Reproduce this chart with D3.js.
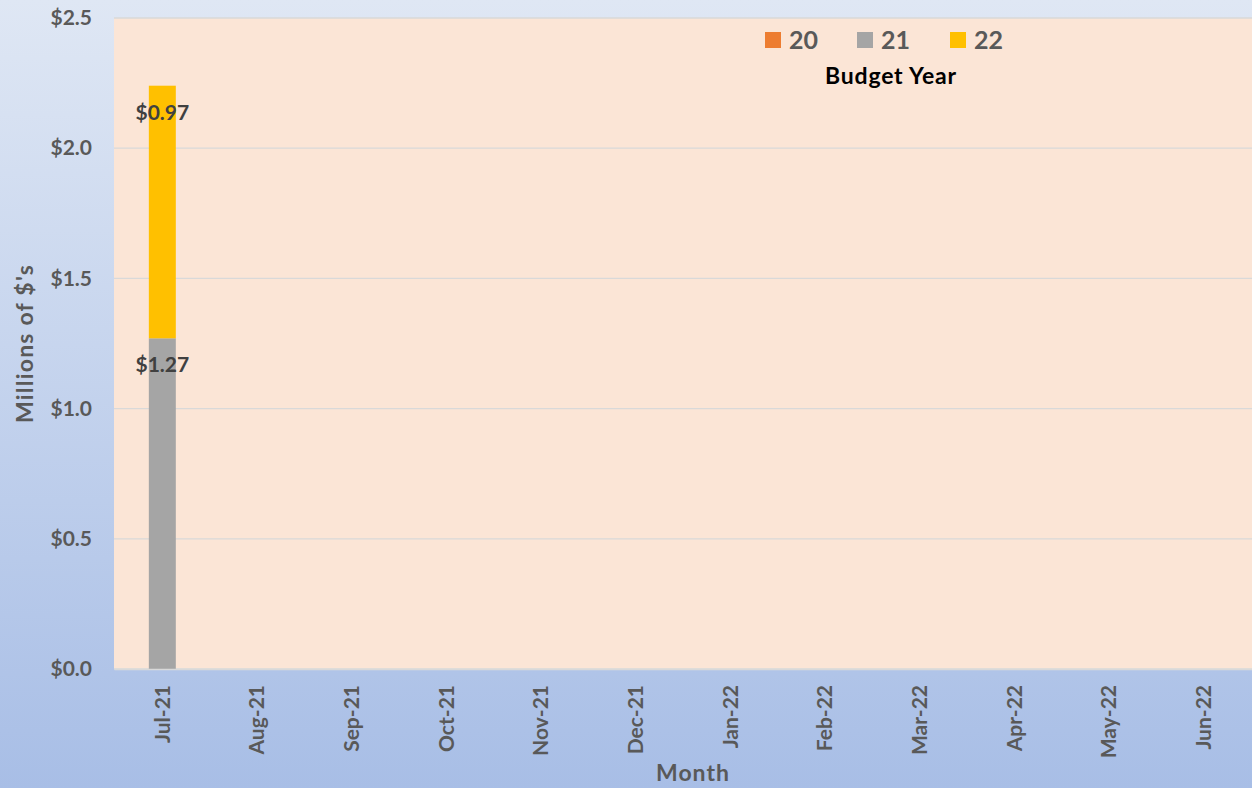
<!DOCTYPE html>
<html>
<head>
<meta charset="utf-8">
<script src="https://cdn.jsdelivr.net/npm/d3@7"></script>
<style>
  body { margin: 0; }
  svg { display: block; font-family: Lato, "Open Sans", sans-serif; font-weight: bold; }
</style>
</head>
<body>
<div id="chart"></div>
<script>
// data
var months = ["Jul-21", "Aug-21", "Sep-21", "Oct-21", "Nov-21", "Dec-21",
              "Jan-22", "Feb-22", "Mar-22", "Apr-22", "May-22", "Jun-22"];
var fy20 = [0, 0, 0, 0, 0, 0, 0, 0, 0, 0, 0, 0];
var fy21 = [1.27, 0, 0, 0, 0, 0, 0, 0, 0, 0, 0, 0];
var fy22 = [0.97, 0, 0, 0, 0, 0, 0, 0, 0, 0, 0, 0];
var seriesNames = ["20", "21", "22"];
var yTicks = [0, 0.5, 1.0, 1.5, 2.0, 2.5];

var colors = {"20": "#ed7d31", "21": "#a5a5a5", "22": "#ffc000"};

var W = 1252, H = 788;
var margin = {top: 18, right: 0, bottom: 119, left: 114};
var width = W - margin.left - margin.right,
    height = H - margin.top - margin.bottom;

var rows = months.map(function(m, i) {
    return {month: m, "20": fy20[i], "21": fy21[i], "22": fy22[i]};
});
var stacked = d3.stack().keys(seriesNames)(rows);

var svg = d3.select("#chart").append("svg")
    .attr("width", W).attr("height", H);

// background gradient
var defs = svg.append("defs");
var grad = defs.append("linearGradient").attr("id", "bg")
    .attr("x1", 0).attr("y1", 0).attr("x2", 0).attr("y2", 1);
grad.append("stop").attr("offset", "0%").attr("stop-color", "#dfe7f4");
grad.append("stop").attr("offset", "100%").attr("stop-color", "#a8bee6");
svg.append("rect").attr("width", W).attr("height", H).attr("fill", "url(#bg)");

var g = svg.append("g")
    .attr("transform", "translate(" + margin.left + "," + margin.top + ")");

g.append("rect").attr("width", width).attr("height", height).attr("fill", "#fbe5d6");

var x = d3.scaleBand().domain(months).range([0, width]).paddingInner(0.715).paddingOuter(0.368);
var y = d3.scaleLinear().domain([0, 2.5]).range([height, 0]);

// gridlines
g.selectAll(".grid").data(yTicks).enter().append("line")
    .attr("x1", 0).attr("x2", width)
    .attr("y1", function(d) { return y(d); })
    .attr("y2", function(d) { return y(d); })
    .attr("stroke", "#d9d9d9").attr("stroke-width", 1.3);

// bars
var layers = g.selectAll(".layer").data(stacked).enter().append("g")
    .attr("fill", function(d) { return colors[d.key]; });
layers.selectAll("rect").data(function(d) { return d; }).enter().append("rect")
    .attr("x", function(d) { return x(d.data.month); })
    .attr("y", function(d) { return y(d[1]); })
    .attr("width", x.bandwidth())
    .attr("height", function(d) { return y(d[0]) - y(d[1]); });

// data labels
layers.each(function(s) {
    d3.select(this).selectAll("text").data(s.filter(function(d) { return d[1] - d[0] > 0; }))
        .enter().append("text")
        .attr("x", function(d) { return x(d.data.month) + x.bandwidth() / 2; })
        .attr("y", function(d) { return y(d[1]) + 34; })
        .attr("text-anchor", "middle")
        .attr("fill", "#404040")
        .style("font-size", "21px")
        .text(function(d) { return "$" + (d[1] - d[0]).toFixed(2); });
});

// y axis
var yAxis = g.append("g")
    .call(d3.axisLeft(y).tickValues(yTicks).tickSize(0).tickPadding(22)
        .tickFormat(function(d) { return "$" + d3.format(".1f")(d); }));
yAxis.select(".domain").remove();
yAxis.selectAll("text").attr("fill", "#595959").style("font-size", "21px")
    .style("font-family", "Lato, sans-serif");

// x axis
var xAxis = g.append("g").attr("transform", "translate(0," + height + ")")
    .call(d3.axisBottom(x).tickSize(0));
xAxis.select(".domain").attr("stroke", "#d9d9d9").attr("stroke-width", 1.5);
xAxis.selectAll("text")
    .attr("transform", "rotate(-90)")
    .attr("x", -16).attr("y", 0).attr("dy", "0.35em")
    .attr("text-anchor", "end")
    .attr("fill", "#595959").style("font-size", "21px")
    .style("font-family", "Lato, sans-serif");

// axis titles
svg.append("text")
    .attr("transform", "translate(33," + (margin.top + height / 2) + ") rotate(-90)")
    .attr("text-anchor", "middle").attr("fill", "#595959")
    .style("font-size", "23px").style("letter-spacing", "1.2px").text("Millions of $'s");
svg.append("text")
    .attr("x", margin.left + width / 2 + 10).attr("y", 781)
    .attr("text-anchor", "middle").attr("fill", "#595959")
    .style("font-size", "23px").style("letter-spacing", "1px").text("Month");

// legend
var legendX = [765, 857, 950];
var legend = svg.append("g");
seriesNames.forEach(function(k, i) {
    legend.append("rect").attr("x", legendX[i]).attr("y", 32)
        .attr("width", 16).attr("height", 16).attr("fill", colors[k]);
    legend.append("text").attr("x", legendX[i] + 24).attr("y", 49)
        .attr("fill", "#595959").style("font-size", "25px").text(k);
});
legend.append("text").attr("x", 891).attr("y", 84).attr("text-anchor", "middle")
    .attr("fill", "#000").style("font-size", "23px").style("letter-spacing", "0.8px")
    .text("Budget Year");
</script>
</body>
</html>
